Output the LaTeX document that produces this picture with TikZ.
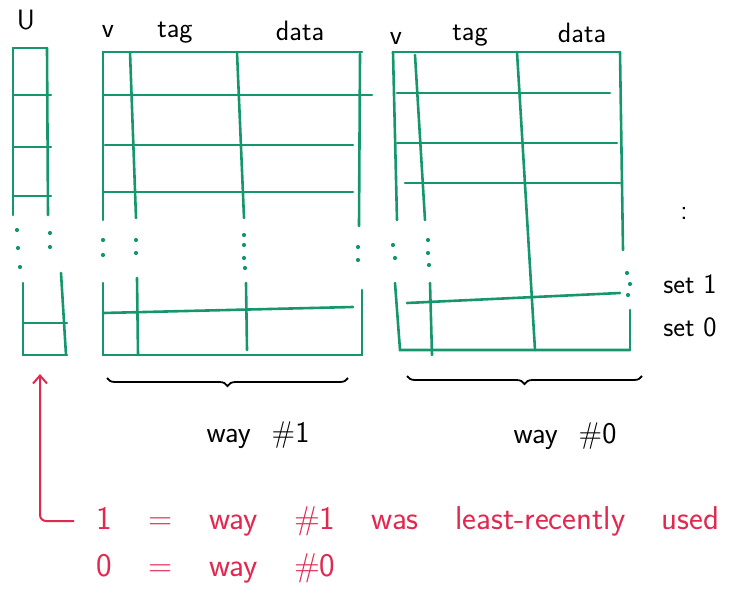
\documentclass[tikz,border=0pt]{standalone}
\usepackage{tikz}
\usetikzlibrary{positioning,decorations.pathreplacing,arrows.meta}
\definecolor{inkgreen}{RGB}{22,150,108}
\definecolor{inkred}{RGB}{225,40,80}
\newcommand{\wideskip}[1]{\spaceskip=#1\relax}

\begin{document}
\begin{tikzpicture}[x=1pt,y=1pt,yscale=-1,xscale=1,
  wire/.style={draw=inkgreen,line width=2.6pt,line cap=round},
  lbl/.style={inner sep=0.75pt,font=\fontsize{28}{32}\selectfont\sffamily},
  waylbl/.style={inner sep=0.75pt,font=\fontsize{30}{34}\selectfont\sffamily,execute at begin node={\wideskip{0.7em}}},
  legend/.style={inner sep=0.75pt,text=inkred,anchor=west,font=\fontsize{33}{38}\selectfont\sffamily,execute at begin node={\wideskip{1.1em}}},
  bracket/.style={draw=black,line width=1.8pt,decorate,decoration={brace,mirror,amplitude=8pt}}]
\path[use as bounding box] (0,0) rectangle (738,594);

%Shape: U column, upper part
\draw[wire] (13,48) -- (47,48) ;
\draw[wire] (13,48) -- (13,215) ;
\draw[wire] (47,48) -- (48,215) ;
\foreach \y in {95,147,196} {\draw[wire] (13,\y) -- (51,\y) ;}
\foreach \x/\y in {17/230,18/248,20/267,50/233,50/247} {\fill[inkgreen] (\x,\y) circle (2.1) ;}
%Shape: U column, lower part
\draw[wire] (23,283) -- (23,355) -- (67,355) ;
\draw[wire] (61,273) -- (66,355) ;
\draw[wire] (23,323) -- (67,323) ;

%Shape: way 1 table
\draw[wire] (103,52) -- (362,52) ;
\draw[wire] (103,52) -- (103,220) ;
\draw[wire] (130,52) -- (136,218) ;
\draw[wire] (237,52) -- (244,218) ;
\draw[wire] (360,54) -- (359,226) ;
\draw[wire] (103,95) -- (372,95) ;
\draw[wire] (105,145) -- (353,145) ;
\draw[wire] (103,192) -- (353,192) ;
\foreach \x/\y in {103/240,103/255,136/240,136/253,244/235,244/245,244/258,245/268,358/247,358/260} {\fill[inkgreen] (\x,\y) circle (2.1) ;}
\draw[wire] (103,283) -- (103,355) -- (362,355) ;
\draw[wire] (137,278) -- (138,355) ;
\draw[wire] (246,283) -- (247,350) ;
\draw[wire] (362,290) -- (362,355) ;
\draw[wire] (103,313) -- (353,307) ;

%Shape: way 0 table
\draw[wire] (393,52) -- (620,52) ;
\draw[wire] (393,52) -- (397,220) ;
\draw[wire] (415,55) -- (425,220) ;
\draw[wire] (517,52) -- (535,350) ;
\draw[wire] (620,52) -- (623,250) ;
\draw[wire] (397,93) -- (610,93) ;
\draw[wire] (397,143) -- (617,143) ;
\draw[wire] (405,183) -- (620,183) ;
\foreach \x/\y in {393/245,395/258,428/240,428/253,429/265,627/273,630/284,628/295} {\fill[inkgreen] (\x,\y) circle (2.1) ;}
\draw[wire] (395,283) -- (400,350) -- (630,350) ;
\draw[wire] (430,283) -- (432,355) ;
\draw[wire] (630,310) -- (630,350) ;
\draw[wire] (407,303) -- (620,293) ;

%Shape: braces
\draw[bracket] (107,378) -- (348,378) ;
\draw[bracket] (407,376) -- (642,376) ;

% Text Node
\node[lbl] (ulbl) at (26,20) {U};
% Text Node
\node[lbl] (vone) at (108,31) {v};
\node[lbl] (tagone) at (175,33) {tag};
\node[lbl] (dataone) at (300,31) {data};
% Text Node
\node[lbl] (vzero) at (396,38) {v};
\node[lbl] (tagzero) at (470,36) {tag};
\node[lbl] (datazero) at (582,33) {data};
% Text Node
\node[lbl] (dots) at (684,213) {:};
\node[lbl] (setone) at (690,284) {set 1};
\node[lbl] (setzero) at (690,327) {set 0};
% Text Node
\node[waylbl] (wayone) at (258,435) {way \#1};
\node[waylbl] (wayzero) at (565,436) {way \#0};
% Text Node
\node[legend] (legendone) at (96,521) {1 = way \#1 was least-recently used};
\node[legend] (legendtwo) at (96,568) {0 = way \#0};

\coordinate (ubit) at (40,374) ;
\draw[inkred,line width=2pt,-{Straight Barb[length=8pt,width=14pt]},rounded corners=6pt] ([xshift=-22pt]legendone.west) -| (ubit) ;

\end{tikzpicture}
\end{document}
